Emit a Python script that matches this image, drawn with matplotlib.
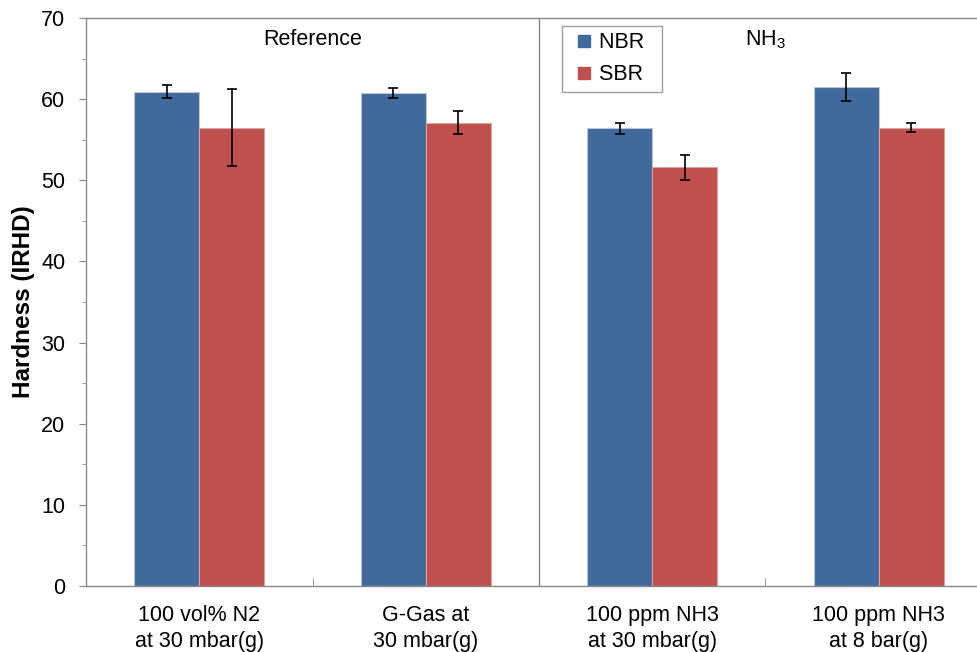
import numpy as np
import matplotlib
matplotlib.use("Agg")
import matplotlib.pyplot as plt
from matplotlib.ticker import MultipleLocator
from matplotlib.lines import Line2D

plt.rcParams['font.family'] = ['Liberation Sans', 'DejaVu Sans']
plt.rcParams['mathtext.default'] = 'regular'

# Data
categories = ['100 vol% N2\nat 30 mbar(g)', 'G-Gas at\n30 mbar(g)',
              '100 ppm NH3\nat 30 mbar(g)', '100 ppm NH3\nat 8 bar(g)']
nbr_vals = [60.9, 60.8, 56.4, 61.5]
nbr_err = [0.8, 0.6, 0.7, 1.7]
sbr_vals = [56.5, 57.1, 51.6, 56.5]
sbr_err = [4.7, 1.4, 1.55, 0.5]
series_names = ['NBR', 'SBR']
colors = ['#41699B', '#C0504D']

fig = plt.figure(figsize=(9.77, 6.52), dpi=100)
ax = fig.add_axes([86 / 977, 66 / 652, 906 / 977, 568 / 652])

x = np.arange(len(categories))
w = 0.287
ekw = dict(ecolor='black', elinewidth=1.2, capsize=3.5, capthick=1.2)
ax.bar(x - w / 2, nbr_vals, w, yerr=nbr_err, color=colors[0], edgecolor='#b8c6d8',
       linewidth=0.8, error_kw=ekw)
ax.bar(x + w / 2, sbr_vals, w, yerr=sbr_err, color=colors[1], edgecolor='#dba5a3',
       linewidth=0.8, error_kw=ekw)

ax.set_xlim(-0.5, 3.5)
ax.set_ylim(0, 70)
ax.yaxis.set_major_locator(MultipleLocator(10))
ax.yaxis.set_minor_locator(MultipleLocator(5))
ax.tick_params(axis='y', which='major', direction='out', length=5, color='#888888',
               labelsize=15.5, pad=10)
ax.tick_params(axis='y', which='minor', direction='out', length=3, color='#888888')

# category labels centred, boundary ticks pointing inward
ax.set_xticks(x)
ax.set_xticklabels(categories, fontsize=15.5, linespacing=1.3)
ax.tick_params(axis='x', which='major', length=0, pad=14)
ax.set_xticks([0.5, 1.5, 2.5], minor=True)
ax.tick_params(axis='x', which='minor', direction='in', length=6, color='#888888')

for s in ['left', 'bottom', 'top', 'right']:
    ax.spines[s].set_color('#888888')
    ax.spines[s].set_linewidth(1.0)

ax.axvline(1.5, color='#888888', linewidth=1.0)

ax.set_ylabel('Hardness (IRHD)', fontsize=17.5, fontweight='bold', labelpad=4)

ax.text(0.5, 67.3, 'Reference', ha='center', va='center', fontsize=15.5)
ax.text(2.5, 67.3, r'NH$_3$', ha='center', va='center', fontsize=15.5)

handles = [Line2D([], [], marker='s', linestyle='none', color=c, markersize=8.6)
           for c in colors]
ax.legend(handles, [n + '  ' for n in series_names], loc='upper left',
          bbox_to_anchor=(562 / 977, 1 - 26 / 652), bbox_transform=fig.transFigure,
          fontsize=15.5, frameon=True, fancybox=False, edgecolor='#888888',
          handlelength=1.4, handletextpad=0.0, labelspacing=0.5, borderpad=0.3,
          borderaxespad=0)

fig.savefig('out.png', dpi=100)
